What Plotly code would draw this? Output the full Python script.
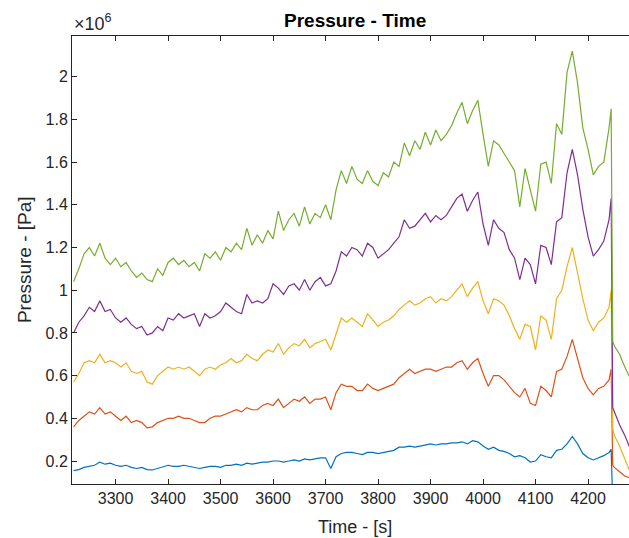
import plotly.graph_objects as go

# time stamps [s]
time_s = list(range(3220, 4241, 10)) + [4244, 4247, 4250, 4260, 4270, 4280]

# pressures in units of 1e6 Pa
p_blue = [
    0.155, 0.16, 0.17, 0.175, 0.18, 0.195, 0.185, 0.19, 0.18, 0.175,
    0.18, 0.17, 0.165, 0.17, 0.16, 0.158, 0.165, 0.175, 0.18, 0.175,
    0.175, 0.18, 0.175, 0.17, 0.165, 0.17, 0.175, 0.175, 0.17, 0.18,
    0.18, 0.185, 0.18, 0.19, 0.185, 0.19, 0.195, 0.195, 0.2, 0.2,
    0.195, 0.2, 0.205, 0.2, 0.21, 0.205, 0.21, 0.215, 0.215, 0.165,
    0.22, 0.235, 0.24, 0.24, 0.235, 0.23, 0.24, 0.24, 0.235, 0.24,
    0.245, 0.25, 0.265, 0.265, 0.27, 0.265, 0.27, 0.275, 0.28, 0.275,
    0.28, 0.28, 0.285, 0.285, 0.29, 0.28, 0.295, 0.29, 0.27, 0.255,
    0.265, 0.25, 0.245, 0.235, 0.22, 0.225, 0.215, 0.195, 0.2, 0.23,
    0.22, 0.215, 0.25, 0.255, 0.28, 0.315, 0.28, 0.235, 0.215, 0.205,
    0.215, 0.225, 0.24,
    0.255, 0.0, None, None, None, None,
]
p_orange = [
    0.36, 0.39, 0.41, 0.43, 0.42, 0.45, 0.42, 0.43, 0.41, 0.39,
    0.41, 0.38, 0.39, 0.38, 0.355, 0.36, 0.38, 0.39, 0.40, 0.40,
    0.41, 0.40, 0.40, 0.39, 0.38, 0.38, 0.40, 0.41, 0.41, 0.42,
    0.43, 0.44, 0.43, 0.45, 0.44, 0.44, 0.46, 0.47, 0.46, 0.49,
    0.45, 0.47, 0.49, 0.48, 0.50, 0.47, 0.49, 0.49, 0.50, 0.44,
    0.52, 0.56, 0.55, 0.55, 0.53, 0.53, 0.56, 0.54, 0.53, 0.54,
    0.55, 0.56, 0.59, 0.61, 0.63, 0.61, 0.62, 0.63, 0.63, 0.62,
    0.63, 0.64, 0.64, 0.66, 0.67, 0.63, 0.66, 0.68, 0.61, 0.55,
    0.60, 0.60, 0.58, 0.55, 0.52, 0.50, 0.54, 0.47, 0.46, 0.55,
    0.53, 0.50, 0.62, 0.63, 0.69, 0.77, 0.68, 0.59, 0.54, 0.51,
    0.54, 0.55, 0.58,
    0.63, 0.18, 0.17, 0.15, 0.13, 0.12,
]
p_yellow = [
    0.57, 0.61, 0.66, 0.67, 0.66, 0.70, 0.66, 0.67, 0.66, 0.64,
    0.66, 0.62, 0.61, 0.62, 0.57, 0.56, 0.60, 0.62, 0.64, 0.63,
    0.64, 0.63, 0.64, 0.62, 0.60, 0.63, 0.64, 0.63, 0.65, 0.66,
    0.68, 0.66, 0.67, 0.70, 0.68, 0.67, 0.70, 0.72, 0.71, 0.75,
    0.70, 0.73, 0.75, 0.74, 0.77, 0.73, 0.75, 0.76, 0.77, 0.72,
    0.80, 0.87, 0.85, 0.87, 0.85, 0.83, 0.89, 0.86, 0.83, 0.85,
    0.86, 0.88, 0.91, 0.93, 0.95, 0.93, 0.94, 0.96, 0.97, 0.94,
    0.96, 0.95, 0.97, 1.00, 1.03, 0.97, 1.01, 1.04, 0.95, 0.89,
    0.96, 0.95, 0.93, 0.88, 0.82, 0.77, 0.84, 0.83, 0.72, 0.88,
    0.86, 0.77, 0.96, 1.00, 1.11, 1.20, 1.08, 0.96, 0.86, 0.81,
    0.85, 0.87, 0.92,
    1.00, 0.35, 0.32, 0.27, 0.21, 0.15,
]
p_purple = [
    0.80, 0.85, 0.88, 0.92, 0.90, 0.95, 0.90, 0.91, 0.87, 0.85,
    0.87, 0.84, 0.82, 0.83, 0.79, 0.80, 0.83, 0.81, 0.87, 0.86,
    0.89, 0.87, 0.88, 0.89, 0.83, 0.89, 0.87, 0.88, 0.90, 0.94,
    0.92, 0.90, 0.89, 0.98, 0.94, 0.95, 0.94, 0.96, 1.03, 1.01,
    0.98, 1.02, 1.03, 1.00, 1.05, 1.00, 1.04, 1.06, 1.02, 1.03,
    1.09, 1.18, 1.16, 1.20, 1.19, 1.16, 1.22, 1.20, 1.15, 1.17,
    1.19, 1.22, 1.25, 1.33, 1.29, 1.30, 1.33, 1.36, 1.32, 1.35,
    1.33, 1.35, 1.39, 1.43, 1.45, 1.37, 1.42, 1.46, 1.31, 1.21,
    1.33, 1.29, 1.27, 1.19, 1.15, 1.05, 1.15, 1.12, 1.03, 1.21,
    1.20, 1.12, 1.32, 1.34, 1.55, 1.66, 1.54, 1.38, 1.25, 1.16,
    1.19, 1.23, 1.33,
    1.43, 0.45, 0.43, 0.37, 0.32, 0.26,
]
p_green = [
    1.04, 1.10, 1.17, 1.20, 1.16, 1.22, 1.15, 1.12, 1.15, 1.11,
    1.13, 1.09, 1.06, 1.08, 1.05, 1.04, 1.10, 1.07, 1.13, 1.15,
    1.12, 1.14, 1.11, 1.13, 1.09, 1.17, 1.15, 1.18, 1.14, 1.20,
    1.18, 1.22, 1.19, 1.29, 1.21, 1.26, 1.22, 1.28, 1.24, 1.37,
    1.28, 1.33, 1.36, 1.30, 1.39, 1.31, 1.36, 1.34, 1.40, 1.33,
    1.47, 1.56, 1.50, 1.58, 1.52, 1.50, 1.56, 1.51, 1.49, 1.55,
    1.53, 1.60, 1.58, 1.69, 1.63, 1.70, 1.66, 1.74, 1.68, 1.75,
    1.70, 1.73, 1.77, 1.83, 1.88, 1.78, 1.84, 1.89, 1.73, 1.58,
    1.70, 1.68, 1.64, 1.60, 1.56, 1.39, 1.57, 1.47, 1.37, 1.59,
    1.60, 1.50, 1.78, 1.73, 2.02, 2.12, 1.97, 1.76, 1.66, 1.54,
    1.58, 1.60, 1.76,
    1.85, 0.76, 0.74, 0.70, 0.64, 0.59,
]

series = [
    (p_blue, "#0072BD"),
    (p_orange, "#D95319"),
    (p_yellow, "#EDB120"),
    (p_purple, "#7E2F8E"),
    (p_green, "#77AC30"),
]

ytick_vals = [0.2, 0.4, 0.6, 0.8, 1.0, 1.2, 1.4, 1.6, 1.8, 2.0]
ytick_text = ["0.2", "0.4", "0.6", "0.8", "1", "1.2", "1.4", "1.6", "1.8", "2"]
xtick_vals = [3300, 3400, 3500, 3600, 3700, 3800, 3900, 4000, 4100, 4200]

fig = go.Figure()
for vals, col in series:
    fig.add_trace(go.Scatter(
        x=time_s,
        y=[None if v is None else v * 1e6 for v in vals],
        mode="lines",
        line=dict(color=col, width=1.2),
        showlegend=False,
        connectgaps=False,
    ))

axis_col = "#262626"
fnt = "Liberation Sans, Arial, sans-serif"

fig.update_layout(
    width=629, height=538,
    margin=dict(l=72, r=0, t=36, b=54),
    paper_bgcolor="white", plot_bgcolor="white",
    font=dict(family=fnt, size=16, color=axis_col),
    xaxis=dict(
        range=[3217, 4278],
        tickvals=xtick_vals,
        ticks="inside", ticklen=5, tickcolor=axis_col, tickwidth=1,
        showline=True, linecolor=axis_col, linewidth=1, mirror="ticks",
        showgrid=False, zeroline=False,
        tickfont=dict(size=16, color=axis_col),
    ),
    yaxis=dict(
        range=[0.0923e6, 2.1906e6],
        tickvals=[v * 1e6 for v in ytick_vals],
        ticktext=ytick_text,
        ticks="inside", ticklen=5, tickcolor=axis_col, tickwidth=1,
        showline=True, linecolor=axis_col, linewidth=1, mirror=False,
        showgrid=False, zeroline=False,
        tickfont=dict(size=16, color=axis_col),
    ),
    annotations=[
        dict(text="<b>Pressure - Time</b>", xref="paper", yref="paper",
             x=0.508, y=1.0357, xanchor="center", yanchor="middle",
             showarrow=False, font=dict(size=19, color="black", family=fnt)),
        dict(text="Time - [s]", xref="paper", yref="paper",
             x=0.508, y=-0.096, xanchor="center", yanchor="middle",
             showarrow=False, font=dict(size=18, color=axis_col, family=fnt)),
        dict(text="Pressure - [Pa]", xref="paper", yref="paper",
             x=-0.086, y=0.5, xanchor="center", yanchor="middle", textangle=-90,
             showarrow=False, font=dict(size=19, color=axis_col, family=fnt)),
        dict(text="×10<sup>6</sup>", xref="paper", yref="paper",
             x=0.0, y=1.0, xanchor="left", yanchor="bottom",
             showarrow=False, font=dict(size=18, color=axis_col, family=fnt)),
    ],
)

fig.write_html(
    "out.html",
    config={"displayModeBar": False},
    post_script="document.body.style.margin='0';document.body.style.overflow='hidden';",
)
